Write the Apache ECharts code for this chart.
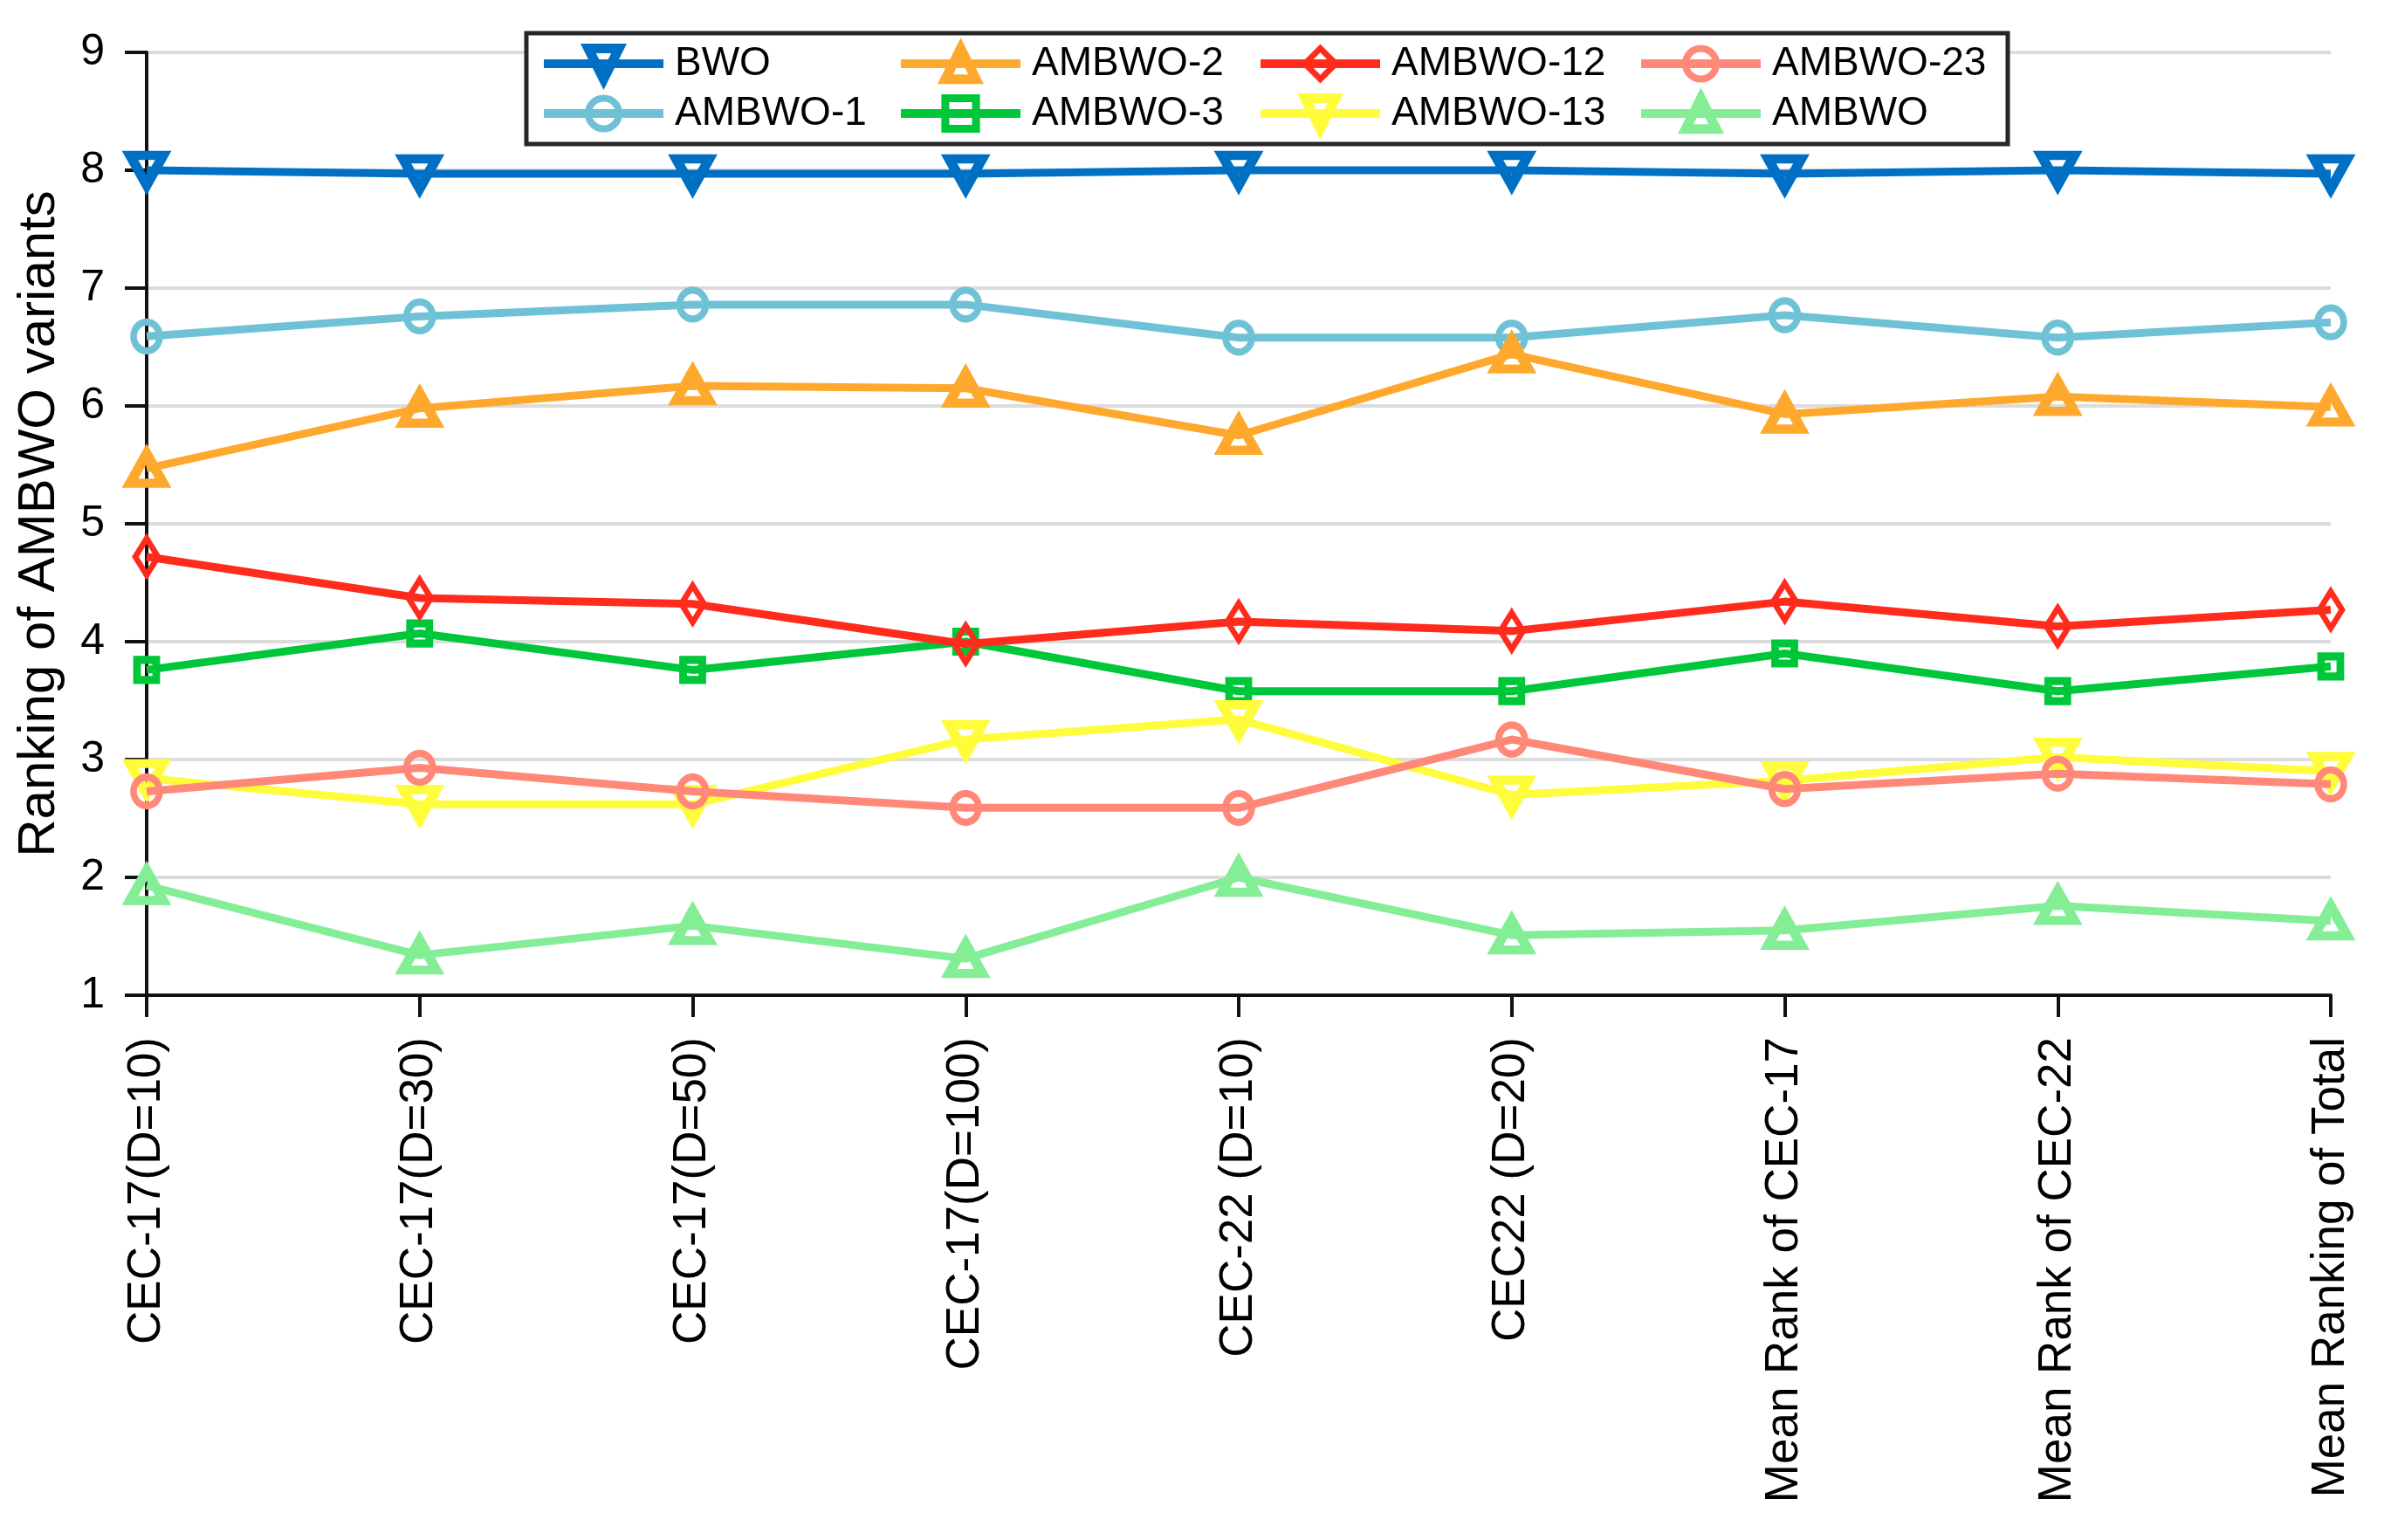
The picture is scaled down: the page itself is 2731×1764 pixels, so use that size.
<!DOCTYPE html>
<html>
<head>
<meta charset="utf-8">
<script src="https://cdn.jsdelivr.net/npm/echarts@6/dist/echarts.min.js"></script>
<style>
html,body{margin:0;padding:0;background:#fff;}
#chart{width:2731px;height:1764px;}
</style>
</head>
<body>
<div id="chart"></div>
<script>
// ---- data ----
var categories = ['CEC-17(D=10)', 'CEC-17(D=30)', 'CEC-17(D=50)', 'CEC-17(D=100)', 'CEC-22 (D=10)', 'CEC22 (D=20)', 'Mean Rank of CEC-17', 'Mean Rank of CEC-22', 'Mean Ranking of Total'];
var yTicks = [1, 2, 3, 4, 5, 6, 7, 8, 9];
var seriesNames = ['BWO', 'AMBWO-1', 'AMBWO-2', 'AMBWO-3', 'AMBWO-12', 'AMBWO-13', 'AMBWO-23', 'AMBWO'];
var BWO      = [8.00, 7.97, 7.97, 7.97, 8.00, 8.00, 7.97, 8.00, 7.97];
var AMBWO_1  = [6.59, 6.76, 6.86, 6.86, 6.58, 6.58, 6.77, 6.58, 6.71];
var AMBWO_2  = [5.47, 5.98, 6.17, 6.15, 5.75, 6.44, 5.93, 6.08, 5.99];
var AMBWO_3  = [3.76, 4.07, 3.76, 4.00, 3.58, 3.58, 3.90, 3.58, 3.79];
var AMBWO_12 = [4.72, 4.37, 4.32, 3.98, 4.17, 4.09, 4.34, 4.13, 4.27];
var AMBWO_13 = [2.84, 2.62, 2.62, 3.17, 3.34, 2.70, 2.82, 3.02, 2.90];
var AMBWO_23 = [2.73, 2.93, 2.73, 2.59, 2.59, 3.17, 2.75, 2.88, 2.79];
var AMBWO    = [1.93, 1.34, 1.59, 1.31, 2.00, 1.51, 1.55, 1.76, 1.63];

var seriesData = [BWO, AMBWO_1, AMBWO_2, AMBWO_3, AMBWO_12, AMBWO_13, AMBWO_23, AMBWO];
var colors  = ['#0070C4', '#6FC2D6', '#FEA92D', '#00C63A', '#FF2B1C', '#FFFC3C', '#FF8878', '#84EE96'];
var symbols = ['triangle', 'circle', 'triangle', 'rect', 'diamond', 'triangle', 'circle', 'triangle'];
var rotates = [180, 0, 0, 0, 0, 180, 0, 0];
var sizes   = [[38, 34], [30, 33], [38, 34], [22, 23], [26, 42], [38, 34], [30, 33], [38, 34]];
var borders = [11, 8, 11, 9, 7, 11, 8, 11];

// legend placement (column-major like the original)
var legendCols = [618, 1027, 1439, 1875];
var legendRows = [50, 107];

var FONT = "'Liberation Sans', Arial, Helvetica, sans-serif";
var TXT = '#111111';

var series = seriesNames.map(function (n, i) {
  return {
    name: n,
    type: 'line',
    data: seriesData[i],
    symbol: symbols[i],
    symbolRotate: rotates[i],
    symbolSize: sizes[i],
    showAllSymbol: true,
    lineStyle: { color: colors[i], width: 9 },
    itemStyle: { color: 'rgba(255,255,255,0)', borderColor: colors[i], borderWidth: borders[i] },
    emphasis: { disabled: true },
    z: 2 + i * 0.01
  };
});

var legends = seriesNames.map(function (n, i) {
  var col = Math.floor(i / 2), row = i % 2;
  return {
    data: [n],
    left: legendCols[col],
    top: legendRows[row],
    orient: 'horizontal',
    padding: 0,
    itemWidth: 137,
    itemHeight: 44,
    selectedMode: false,
    z: 5,
    lineStyle: { width: 10, color: colors[i] },
    itemStyle: { color: 'rgba(255,255,255,0)', borderColor: colors[i], borderWidth: borders[i] },
    textStyle: { fontFamily: FONT, fontSize: 46, color: '#000', padding: [0, 0, 0, 8], lineHeight: 46 }
  };
});

var chart = echarts.init(document.getElementById('chart'), null, { renderer: 'canvas' });
chart.setOption({
  backgroundColor: '#ffffff',
  animation: false,
  color: colors,
  grid: { left: 168, right: 61, top: 60, bottom: 624, containLabel: false },
  legend: legends,
  graphic: [{
    type: 'rect',
    z: 4,
    shape: { x: 603, y: 38, width: 1697, height: 127 },
    style: { fill: '#ffffff', stroke: '#262626', lineWidth: 5 }
  }],
  xAxis: {
    type: 'category',
    data: categories,
    boundaryGap: false,
    axisLine: { show: true, lineStyle: { color: TXT, width: 4 } },
    axisTick: { show: true, alignWithLabel: true, length: 25, lineStyle: { color: TXT, width: 4 } },
    axisLabel: { rotate: 90, margin: 48, fontFamily: FONT, fontSize: 53, color: '#000', interval: 0 },
    splitLine: { show: false }
  },
  yAxis: {
    type: 'value',
    min: yTicks[0],
    max: yTicks[yTicks.length - 1],
    interval: 1,
    name: 'Ranking of AMBWO variants',
    nameLocation: 'middle',
    nameGap: 93,
    nameTextStyle: { fontFamily: FONT, fontSize: 60, color: '#000' },
    axisLine: { show: true, lineStyle: { color: TXT, width: 4 } },
    axisTick: { show: true, length: 25, lineStyle: { color: TXT, width: 4 } },
    axisLabel: { margin: 48, fontFamily: FONT, fontSize: 50, color: '#000' },
    splitLine: { show: true, lineStyle: { color: '#DCDCDC', width: 4 } }
  },
  series: series
});
</script>
</body>
</html>
